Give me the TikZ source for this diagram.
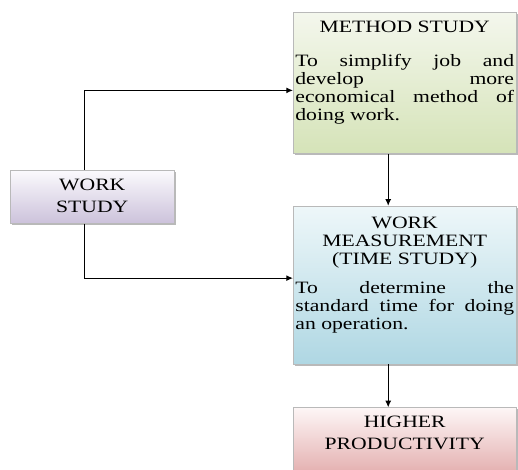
\documentclass[tikz,border=0pt]{standalone}
\usepackage{fontspec}
\setmainfont{Liberation Serif}[FakeStretch=1.25]
\usetikzlibrary{arrows.meta, positioning, shadows}

\definecolor{greentop}{HTML}{F4F7ED}
\definecolor{greenbottom}{HTML}{D5E3B8}
\definecolor{purpletop}{HTML}{FBFAFD}
\definecolor{purplebottom}{HTML}{CCC2DB}
\definecolor{bluetop}{HTML}{EEF7F9}
\definecolor{bluebottom}{HTML}{AFD7E3}
\definecolor{pinktop}{HTML}{FDF6F6}
\definecolor{pinkbottom}{HTML}{E5B3B3}

\begin{document}
\begin{tikzpicture}[
    x=0.75pt, y=-0.75pt,
    box/.style={draw=gray!55, thin, inner xsep=1.6pt, inner ysep=6pt, anchor=north west,
        drop shadow={shadow xshift=1.2pt, shadow yshift=-1.2pt, fill=gray!55, opacity=1}},
    bodytext/.style={font=\fontsize{13}{13.5}\selectfont, text width=164pt, align=justify},
    titletext/.style={font=\fontsize{13}{16.5}\selectfont, align=center},
    arrow/.style={-{Latex[length=5pt,width=4.5pt]}, line width=0.9pt},
    ]

\useasboundingbox (0,0) rectangle (518,470);

% Noeuds
\node[box, bodytext, top color=greentop, bottom color=greenbottom] (method) at (293,12)
    {{\centering\rule{0pt}{9pt}METHOD STUDY\par}\vspace{12pt}
     To simplify job and\linebreak develop more\linebreak economical method of\linebreak doing work.\rule[-19pt]{0pt}{19pt}};
\node[box, bodytext, top color=bluetop, bottom color=bluebottom, below=39pt of method] (measure)
    {{\centering\rule{0pt}{10.5pt}WORK\\MEASUREMENT\\(TIME STUDY)\par}\vspace{8.25pt}
     To determine the\linebreak standard time for doing\linebreak an operation.\rule[-20.25pt]{0pt}{20.25pt}};
\node[box, titletext, text width=164pt, top color=pinktop, bottom color=pinkbottom, below=32.25pt of measure] (higher)
    {\rule{0pt}{8.25pt}HIGHER\\PRODUCTIVITY\rule[-9.75pt]{0pt}{9.75pt}};
\node[box, titletext, text width=119.8pt, top color=purpletop, bottom color=purplebottom] (ws) at (10,170)
    {\rule{0pt}{9pt}WORK\\STUDY\rule[-2.25pt]{0pt}{2.25pt}};

% Fleches
\draw[arrow] ([xshift=-6pt]ws.north) |- ([yshift=-5.6pt]method.west);
\draw[arrow] ([xshift=-6pt]ws.south) |- ([yshift=5.25pt]measure.west);
\draw[arrow] ([xshift=-12.4pt]method.south) -- ([xshift=-12.4pt]measure.north);
\draw[arrow] ([xshift=-12.4pt]measure.south) -- ([xshift=-12.4pt]higher.north);

\end{tikzpicture}
\end{document}
